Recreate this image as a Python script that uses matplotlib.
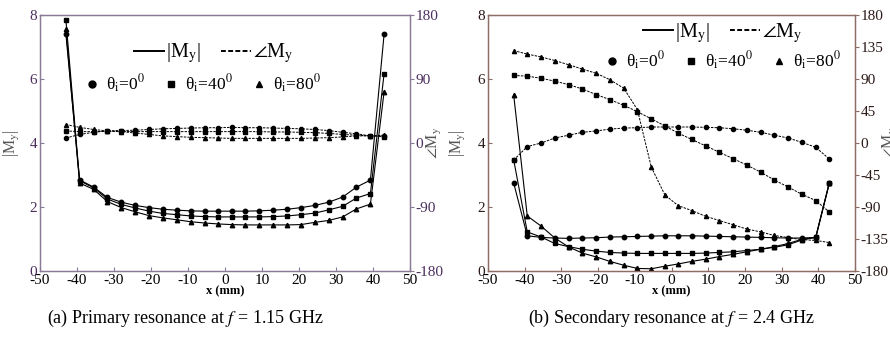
import matplotlib
matplotlib.use("Agg")
import matplotlib.pyplot as plt
from matplotlib.lines import Line2D

plt.rcParams['font.family'] = ['Liberation Serif', 'DejaVu Serif']
plt.rcParams['mathtext.fontset'] = 'stix'
plt.rcParams['axes.unicode_minus'] = False

# positions along the strip (mm)
x_mm = [-43.0, -39.3, -35.5, -31.8, -28.0, -24.3, -20.5, -16.8, -13.0, -9.3, -5.5, -1.8,
        1.8, 5.5, 9.3, 13.0, 16.8, 20.5, 24.3, 28.0, 31.8, 35.5, 39.3, 43.0]

# (a) primary resonance, f = 1.15 GHz
mag_a_0 = [7.40, 2.85, 2.62, 2.30, 2.15, 2.05, 1.98, 1.93, 1.90, 1.88, 1.87, 1.87,
           1.87, 1.87, 1.88, 1.90, 1.93, 1.98, 2.05, 2.15, 2.31, 2.62, 2.84, 7.40]
mag_a_40 = [7.85, 2.82, 2.60, 2.25, 2.08, 1.97, 1.87, 1.80, 1.76, 1.72, 1.70, 1.69,
            1.69, 1.69, 1.69, 1.70, 1.72, 1.76, 1.81, 1.91, 2.02, 2.28, 2.42, 6.17]
mag_a_80 = [7.55, 2.75, 2.55, 2.17, 1.98, 1.85, 1.73, 1.66, 1.60, 1.54, 1.50, 1.47,
            1.45, 1.44, 1.44, 1.44, 1.44, 1.45, 1.52, 1.58, 1.69, 1.94, 2.09, 5.60]
ph_a_0 = [7, 12, 15, 17, 17.5, 18, 19, 20, 20.5, 21, 21.5, 21.5,
          22, 21.5, 21.5, 21, 20.5, 20, 19, 17.5, 15, 13, 10, 10]
ph_a_40 = [17, 16, 16, 16.5, 16.5, 16, 16, 16, 16, 16, 16, 16,
           16, 16, 16, 15.5, 15.5, 15, 14.5, 13.5, 12, 11, 10, 9]
ph_a_80 = [26, 22, 19, 17, 16, 14, 12, 10, 9, 8, 7.5, 7,
           6.5, 6.5, 6.5, 6.5, 6.5, 6.5, 7, 7.5, 8.5, 10, 10, 11]

# (b) secondary resonance, f = 2.4 GHz
mag_b_0 = [2.75, 1.10, 1.05, 1.03, 1.02, 1.03, 1.04, 1.06, 1.07, 1.08, 1.09, 1.10,
           1.10, 1.10, 1.09, 1.08, 1.07, 1.06, 1.05, 1.04, 1.03, 1.03, 1.05, 2.75]
mag_b_40 = [3.47, 1.22, 1.06, 0.86, 0.76, 0.68, 0.62, 0.58, 0.56, 0.55, 0.55, 0.55,
            0.55, 0.55, 0.56, 0.58, 0.60, 0.64, 0.68, 0.74, 0.82, 0.97, 1.05, 2.75]
mag_b_80 = [5.50, 1.72, 1.40, 1.03, 0.75, 0.56, 0.44, 0.30, 0.18, 0.08, 0.07, 0.15,
            0.22, 0.30, 0.37, 0.45, 0.52, 0.60, 0.68, 0.76, 0.86, 0.99, 1.05, 2.75]
ph_b_0 = [-24, -5, 0, 7, 11, 15, 17, 19.5, 21, 21.5, 22.5, 22.5,
          22.5, 22.5, 22, 21.5, 20, 18, 15, 11, 7, 1, -6, -22.5]
ph_b_40 = [95, 94, 91, 87, 82, 76, 68, 61, 53, 44, 34, 24,
           14, 5, -4, -13, -22, -31, -41, -52, -62, -72, -81, -97]
ph_b_80 = [130, 125, 121, 116, 110, 104, 98, 89, 77, 47, -34, -73,
           -88, -95, -103, -109, -115, -121, -125, -130, -133, -136, -137, -140]

theta_labels = [r'θ$_\mathrm{i}$=0$^0$', r'θ$_\mathrm{i}$=40$^0$', r'θ$_\mathrm{i}$=80$^0$']
markers = ['o', 's', '^']

fig = plt.figure(figsize=(8.9, 3.41), dpi=100)
ax_a = fig.add_axes([40 / 890, 1 - 271 / 341, 370 / 890, 256 / 341])
ax_b = fig.add_axes([488 / 890, 1 - 271 / 341, 367 / 890, 256 / 341])


def draw_panel(ax, mags, phases, frame_col, ylab_col, phase_step, leg1_pos, leg2_pos,
               ylab_x):
    tw = ax.twinx()
    for m, mk in zip(mags, markers):
        ax.plot(x_mm, m, color='black', lw=0.8, marker=mk, ms=3.2)
    for p, mk in zip(phases, markers):
        tw.plot(x_mm, p, color='black', lw=0.7, ls=(0, (2.5, 1.2)), marker=mk, ms=3.0)
    ax.set_xlim(-50, 50)
    ax.set_ylim(0, 8)
    tw.set_ylim(-180, 180)
    ax.set_xticks(range(-50, 51, 10))
    ax.set_yticks([0, 2, 4, 6, 8])
    tw.set_yticks(range(-180, 181, phase_step))
    for a in (ax, tw):
        for s in a.spines.values():
            s.set_color(frame_col)
            s.set_linewidth(0.9)
    ax.tick_params(axis='both', direction='in', length=3, labelsize=11, color=frame_col,
                   pad=2)
    tw.tick_params(axis='y', direction='out', length=3, labelsize=11, color=frame_col,
                   pad=1)
    for lab in ax.get_yticklabels() + tw.get_yticklabels():
        lab.set_color(ylab_col)
    ax.set_xlabel('x (mm)', fontsize=9, labelpad=-1, fontweight='bold')
    ax.set_ylabel(r'|M$_\mathrm{y}$|', fontsize=11.5, color='#555555')
    tw.set_ylabel(r'$\angle$M$_\mathrm{y}$', fontsize=11.5, color='#555555')
    ax.yaxis.set_label_coords(ylab_x[0], 0.5)
    tw.yaxis.set_label_coords(ylab_x[1], 0.5)

    line_handles = [Line2D([], [], color='black', lw=1.4),
                    Line2D([], [], color='black', lw=1.4, ls=(0, (2.5, 1.2)))]
    leg1 = tw.legend(line_handles, [r'|M$_\mathrm{y}$|', r'$\angle$M$_\mathrm{y}$'],
                     loc='center', bbox_to_anchor=leg1_pos, ncol=2, frameon=False,
                     fontsize=14.5, handlelength=1.5, handletextpad=0.1, columnspacing=1.0)
    tw.add_artist(leg1)
    mk_handles = [Line2D([], [], color='black', ls='none', marker=mk, ms=5)
                  for mk in markers]
    tw.legend(mk_handles, theta_labels, loc='center', bbox_to_anchor=leg2_pos, ncol=3,
              frameon=False, fontsize=12.5, handlelength=0.8, handletextpad=0.4,
              columnspacing=1.1)
    return tw


draw_panel(ax_a, [mag_a_0, mag_a_40, mag_a_80], [ph_a_0, ph_a_40, ph_a_80],
           '#8a7a96', '#4b2f5e', 90, (0.47, 0.85), (0.44, 0.73), (-0.048, 1.04))
draw_panel(ax_b, [mag_b_0, mag_b_40, mag_b_80], [ph_b_0, ph_b_40, ph_b_80],
           '#8c6c64', '#2a1a18', 45, (0.64, 0.93), (0.64, 0.82), (-0.055, 1.07))

fig.text(185 / 890, 1 - 318 / 341, r'(a) Primary resonance at $f$ = 1.15 GHz',
         ha='center', va='center', fontsize=13)
fig.text(671 / 890, 1 - 318 / 341, r'(b) Secondary resonance at $f$ = 2.4 GHz',
         ha='center', va='center', fontsize=13)

fig.savefig('out.png', dpi=100)
